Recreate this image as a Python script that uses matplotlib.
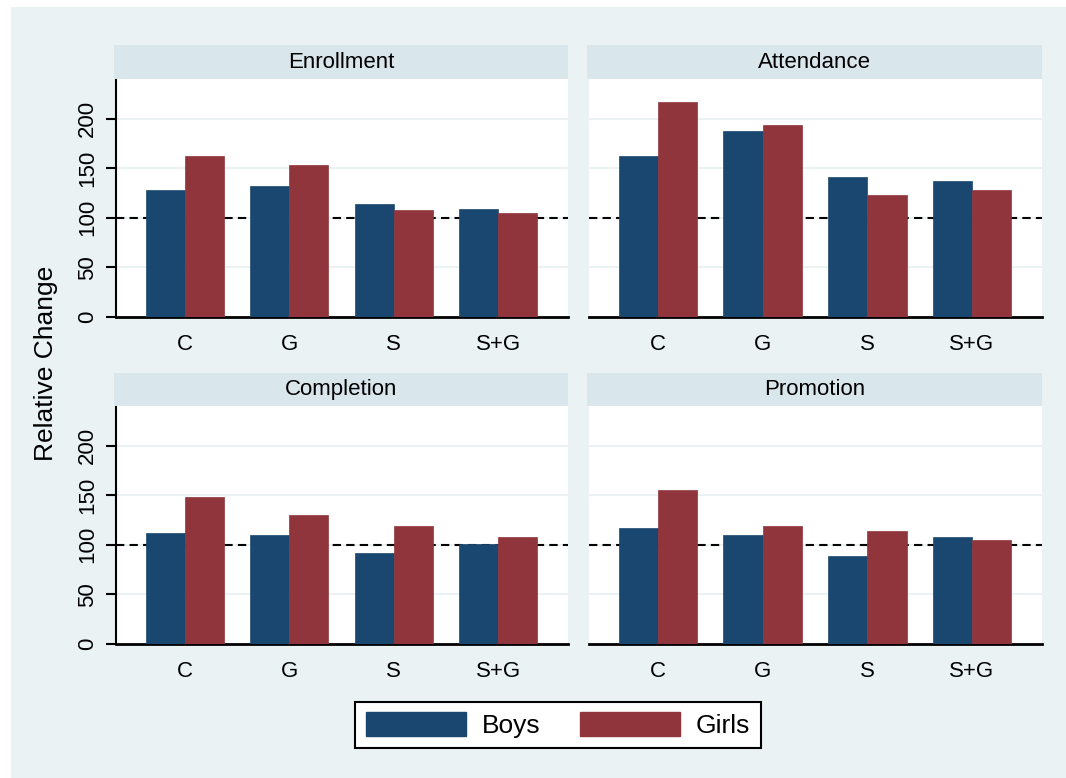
import matplotlib
matplotlib.use('Agg')
import matplotlib.pyplot as plt
from matplotlib.patches import Patch
import numpy as np

plt.rcParams['font.family'] = ['Liberation Sans', 'DejaVu Sans']

categories = ['C', 'G', 'S', 'S+G']
panels = ['Enrollment', 'Attendance', 'Completion', 'Promotion']
boys = {
    'Enrollment': [127.7, 132.5, 114.3, 109.3],
    'Attendance': [162.3, 187.2, 141.5, 136.8],
    'Completion': [112, 110, 92, 101],
    'Promotion': [116.5, 110, 89, 107.5],
}
girls = {
    'Enrollment': [162.3, 152.9, 107.6, 105.2],
    'Attendance': [216.4, 194.0, 123.4, 127.7],
    'Completion': [148.5, 130, 119, 107.5],
    'Promotion': [155, 119, 114, 105],
}
yticks = [0, 50, 100, 150, 200]
reference = 100

NAVY = '#1A476F'
MAROON = '#90353B'
BG = '#EAF2F3'
STRIP = '#D9E6EB'

W, H = 1066, 778
fig = plt.figure(figsize=(W / 100, H / 100), dpi=100)
fig.patch.set_facecolor('white')
# stata-ish background, with thin white margin on top/left
fig.patches.append(plt.Rectangle((11 / W, 0), 1 - 11 / W, 1 - 7 / H, transform=fig.transFigure,
                                 facecolor=BG, edgecolor='none', zorder=-10))

# pixel boxes: (x0, x1, y_top_of_plot, y_bottom_of_plot, strip_top)
boxes = [
    (116, 568, 79, 317, 45),
    (589, 1042, 79, 317, 45),
    (116, 568, 406, 644, 373),
    (589, 1042, 406, 644, 373),
]

x = np.arange(len(categories))
bw = 0.375

for k, name in enumerate(panels):
    x0, x1, yt, yb, st = boxes[k]
    ax = fig.add_axes([x0 / W, 1 - yb / H, (x1 - x0) / W, (yb - yt) / H])
    ax.set_facecolor('white')
    ax.bar(x - bw / 2, boys[name], bw, color=NAVY, edgecolor=NAVY, linewidth=0.5, zorder=3)
    ax.bar(x + bw / 2, girls[name], bw, color=MAROON, edgecolor=MAROON, linewidth=0.5, zorder=3)
    ax.axhline(reference, color='black', linestyle=(0, (4, 2.5)), linewidth=1.5, zorder=2)
    for t in yticks[1:]:
        ax.axhline(t, color=BG, linewidth=1.5, zorder=1)
    ax.set_xlim(-0.66, 3.67)
    ax.set_ylim(0, 240)
    ax.set_xticks(x)
    ax.set_xticklabels(categories, fontsize=16)
    ax.tick_params(axis='x', length=0, pad=12)
    for s in ['top', 'right']:
        ax.spines[s].set_visible(False)
    ax.spines['bottom'].set_linewidth(2)
    if k % 2 == 0:
        ax.set_yticks(yticks)
        ax.set_yticklabels([str(t) for t in yticks], fontsize=16, rotation=90, va='center')
        ax.tick_params(axis='y', length=7, width=1.5, pad=6)
        ax.spines['left'].set_linewidth(1.5)
    else:
        ax.set_yticks([])
        ax.spines['left'].set_visible(False)

    # strip title
    sax = fig.add_axes([(x0 - 2) / W, 1 - yt / H, (x1 - x0 + 2) / W, (yt - st) / H])
    sax.set_facecolor(STRIP)
    sax.set_xticks([])
    sax.set_yticks([])
    for s in sax.spines.values():
        s.set_visible(False)
    sax.text(0.5, 0.5, name, ha='center', va='center', fontsize=16, transform=sax.transAxes)

fig.text(46 / W, 1 - 363 / H, 'Relative Change', rotation=90, ha='center', va='center', fontsize=19)

handles = [Patch(facecolor=NAVY, edgecolor=NAVY), Patch(facecolor=MAROON, edgecolor=MAROON)]
leg = fig.legend(handles, ['Boys', 'Girls'], loc='center', bbox_to_anchor=(558 / W, 1 - 725 / H),
                 ncol=2, fontsize=19, frameon=True, fancybox=False, framealpha=1,
                 handlelength=3.8, handleheight=1.0, handletextpad=0.6, columnspacing=1.5,
                 borderpad=0.4, borderaxespad=0)
leg.get_frame().set_edgecolor('black')
leg.get_frame().set_linewidth(1.5)

plt.savefig('out.png', dpi=100)
